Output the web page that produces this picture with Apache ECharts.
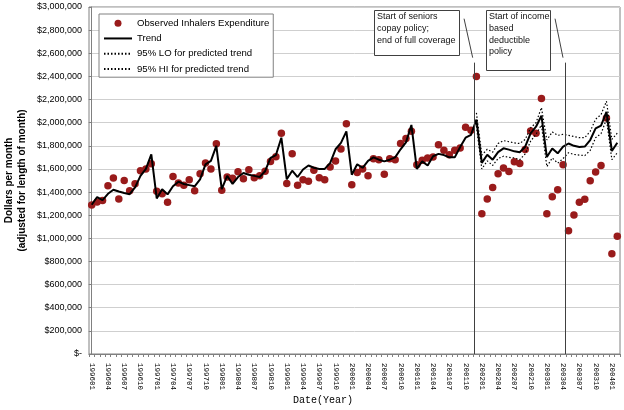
<!DOCTYPE html>
<html>
<head>
<meta charset="utf-8">
<script src="https://cdn.jsdelivr.net/npm/echarts/dist/echarts.min.js"></script>
<style>html,body{margin:0;padding:0;background:#fff;}#c{width:624px;height:410px;}</style>
</head>
<body>
<div id="c"></div>
<script>
const months = [
'199601','199602','199603','199604','199605','199606','199607','199608','199609','199610','199611','199612',
'199701','199702','199703','199704','199705','199706','199707','199708','199709','199710','199711','199712',
'199801','199802','199803','199804','199805','199806','199807','199808','199809','199810','199811','199812',
'199901','199902','199903','199904','199905','199906','199907','199908','199909','199910','199911','199912',
'200001','200002','200003','200004','200005','200006','200007','200008','200009','200010','200011','200012',
'200101','200102','200103','200104','200105','200106','200107','200108','200109','200110','200111','200112',
'200201','200202','200203','200204','200205','200206','200207','200208','200209','200210','200211','200212',
'200301','200302','200303','200304','200305','200306','200307','200308','200309','200310','200311','200312',
'200401','200402'];

const observed = [
1288000,1314000,1328000,1455000,1522000,1340000,1501000,1412000,1472000,1585000,1600000,1645000,
1406000,1386000,1311000,1535000,1479000,1458000,1506000,1412000,1559000,1652000,1600000,1817000,
1415000,1530000,1520000,1575000,1516000,1594000,1523000,1540000,1579000,1665000,1706000,1908000,
1473000,1731000,1458000,1507000,1493000,1588000,1524000,1507000,1617000,1669000,1773000,1991000,
1464000,1570000,1600000,1542000,1689000,1680000,1553000,1689000,1680000,1820000,1864000,1925000,
1637000,1674000,1695000,1703000,1810000,1761000,1723000,1761000,1781000,1960000,1934000,2400000,
1213000,1340000,1440000,1559000,1608000,1578000,1662000,1648000,1767000,1928000,1908000,2208000,
1213000,1360000,1420000,1637000,1066000,1202000,1311000,1338000,1498000,1574000,1630000,2041000,
867000,1017000];

const trend = [
1290000,1357000,1330000,1385000,1420000,1405000,1392000,1382000,1440000,1540000,1600000,1725000,
1345000,1425000,1380000,1450000,1490000,1470000,1460000,1450000,1510000,1640000,1670000,1800000,
1425000,1540000,1470000,1530000,1565000,1550000,1540000,1530000,1580000,1695000,1720000,1870000,
1510000,1585000,1530000,1595000,1630000,1610000,1600000,1600000,1650000,1770000,1825000,1925000,
1550000,1640000,1610000,1670000,1700000,1680000,1665000,1680000,1700000,1770000,1830000,1980000,
1600000,1665000,1630000,1710000,1730000,1720000,1700000,1700000,1790000,1870000,1895000,2026000,
1652000,1723000,1680000,1745000,1778000,1767000,1752000,1744000,1792000,1908000,1965000,2060000,
1703000,1777000,1735000,1792000,1820000,1800000,1790000,1793000,1850000,1950000,1974000,2093000,
1755000,1827000];

const lo95 = [
null,null,null,null,null,null,null,null,null,null,null,null,
null,null,null,null,null,null,null,null,null,null,null,null,
null,null,null,null,null,null,null,null,null,null,null,null,
null,null,null,null,null,null,null,null,null,null,null,null,
null,null,null,null,null,null,null,null,null,null,null,null,
null,null,null,null,null,null,null,null,null,null,null,1970000,
1600000,1670000,1630000,1690000,1710000,1700000,1695000,1680000,1730000,1840000,1900000,1980000,
1620000,1695000,1650000,1690000,1740000,1725000,1720000,1715000,1760000,1870000,1905000,2030000,
1680000,1740000];

const hi95 = [
null,null,null,null,null,null,null,null,null,null,null,null,
null,null,null,null,null,null,null,null,null,null,null,null,
null,null,null,null,null,null,null,null,null,null,null,null,
null,null,null,null,null,null,null,null,null,null,null,null,
null,null,null,null,null,null,null,null,null,null,null,null,
null,null,null,null,null,null,null,null,null,null,null,2084000,
1720000,1770000,1745000,1820000,1845000,1835000,1825000,1820000,1855000,1955000,2000000,2130000,
1850000,1920000,1890000,1900000,1890000,1880000,1870000,1870000,1925000,2030000,2070000,2185000,
1855000,1910000];

const seriesNames = ['Observed Inhalers Expenditure','Trend','95% LO for predicted trend','95% HI for predicted trend'];
const yTitle = 'Dollars per month\n(adjusted for length of month)';

// policy annotation positions (category index, dollars)
const policy1 = {label:'Start of seniors\ncopay policy;\nend of full coverage', at:70.55, ptrFrom:[68.72,2899000], ptrTo:[70.31,2562000]};
const policy2 = {label:'Start of income\nbased\ndeductible\npolicy', at:87.45, ptrFrom:[85.51,2899000], ptrTo:[86.98,2562000]};
const lineTop = 2519000;

const chart = echarts.init(document.getElementById('c'), null, {renderer:'canvas'});
const dotted = [1.5, 2];
const noSymbol = {color: 'rgba(0,0,0,0)', opacity: 0, borderWidth: 0};
const option = {
  animation: false,
  backgroundColor: '#fff',
  title: {
    text: 'Date(Year)', left: 293, top: 395, padding: 0,
    textStyle: {fontFamily: 'Liberation Mono', fontSize: 10, fontWeight: 'normal', color: '#000'}
  },
  grid: {left: 89, right: 4, top: 7, bottom: 56, show: true, borderColor: '#808080', borderWidth: 1,
         containLabel: false, outerBoundsMode: 'none'},
  legend: {
    orient: 'vertical', left: 99, top: 14,
    backgroundColor: '#fff', borderColor: '#808080', borderWidth: 1,
    padding: [3, 4, 2, 4], itemWidth: 28, itemHeight: 7, itemGap: 3,
    textStyle: {fontFamily: 'Liberation Sans', fontSize: 9.6, color: '#000', lineHeight: 12.3},
    data: [
      {name: seriesNames[0]},
      {name: seriesNames[1], itemStyle: noSymbol},
      {name: seriesNames[2], itemStyle: noSymbol},
      {name: seriesNames[3], itemStyle: noSymbol}
    ]
  },
  xAxis: [
    {
      type: 'category', data: months, boundaryGap: true,
      axisLine: {show: true, lineStyle: {color: '#808080'}},
      axisTick: {show: true, interval: 0, length: 3, lineStyle: {color: '#808080'}},
      axisLabel: {interval: 2, rotate: -90, fontFamily: 'Liberation Mono', fontSize: 7.5, color: '#000', margin: 9, hideOverlap: false},
      splitLine: {show: false}
    },
    {type: 'value', min: -0.5, max: 97.5, show: false}
  ],
  yAxis: {
    type: 'value', min: 0, max: 3000000, interval: 200000,
    axisLine: {show: true, lineStyle: {color: '#808080'}},
    axisTick: {show: true, length: 3, lineStyle: {color: '#808080'}},
    axisLabel: {
      fontFamily: 'Liberation Sans', fontSize: 9, color: '#000', margin: 7,
      formatter: v => v === 0 ? '$-' : '$' + v.toLocaleString('en-US')
    },
    splitLine: {show: true, lineStyle: {color: '#cfcfcf', width: 1}}
  },
  series: [
    {
      name: seriesNames[0], type: 'scatter', data: observed, symbol: 'circle', symbolSize: 7.5,
      itemStyle: {color: '#991b1b', opacity: 1}, z: 2
    },
    {
      name: seriesNames[1], type: 'line', data: trend, symbol: 'none', showSymbol: false,
      lineStyle: {color: '#000', width: 2}, itemStyle: {color: '#000'}, z: 4
    },
    {
      name: seriesNames[2], type: 'line', data: lo95, symbol: 'none', showSymbol: false, connectNulls: false,
      lineStyle: {color: '#000', width: 1.2, type: dotted}, itemStyle: {color: '#000'}, z: 3
    },
    {
      name: seriesNames[3], type: 'line', data: hi95, symbol: 'none', showSymbol: false, connectNulls: false,
      lineStyle: {color: '#000', width: 1.2, type: dotted}, itemStyle: {color: '#000'}, z: 3
    },
    {
      name: 'policy', type: 'line', xAxisIndex: 1, yAxisIndex: 0, data: [], symbol: 'none',
      markLine: {
        silent: true, symbol: ['none', 'none'], label: {show: false},
        lineStyle: {color: '#404040', width: 1, type: 'solid'},
        data: [
          [{coord: policy1.ptrFrom}, {coord: policy1.ptrTo}],
          [{coord: [policy1.at, lineTop]}, {coord: [policy1.at, 0]}],
          [{coord: policy2.ptrFrom}, {coord: policy2.ptrTo}],
          [{coord: [policy2.at, lineTop]}, {coord: [policy2.at, 0]}]
        ]
      },
      z: 5
    }
  ],
  graphic: [
    {type: 'text', x: 15.5, y: 180.5, rotation: Math.PI / 2,
     style: {text: yTitle, font: 'bold 10px "Liberation Sans"', fill: '#000', lineHeight: 13,
             align: 'center', verticalAlign: 'middle', textAlign: 'center', textVerticalAlign: 'middle'}, z: 10},
    {type: 'rect', shape: {x: 374.5, y: 10.5, width: 85, height: 45}, style: {fill: '#fff', stroke: '#404040', lineWidth: 1}, z: 10},
    {type: 'text', x: 377, y: 11, style: {text: policy1.label, font: '9px "Liberation Sans"', fill: '#111', lineHeight: 12}, z: 11},
    {type: 'rect', shape: {x: 486.5, y: 10.5, width: 64, height: 60}, style: {fill: '#fff', stroke: '#404040', lineWidth: 1}, z: 10},
    {type: 'text', x: 489, y: 11, style: {text: policy2.label, font: '9px "Liberation Sans"', fill: '#111', lineHeight: 11.7}, z: 11}
  ]
};
chart.setOption(option);
</script>
</body>
</html>
